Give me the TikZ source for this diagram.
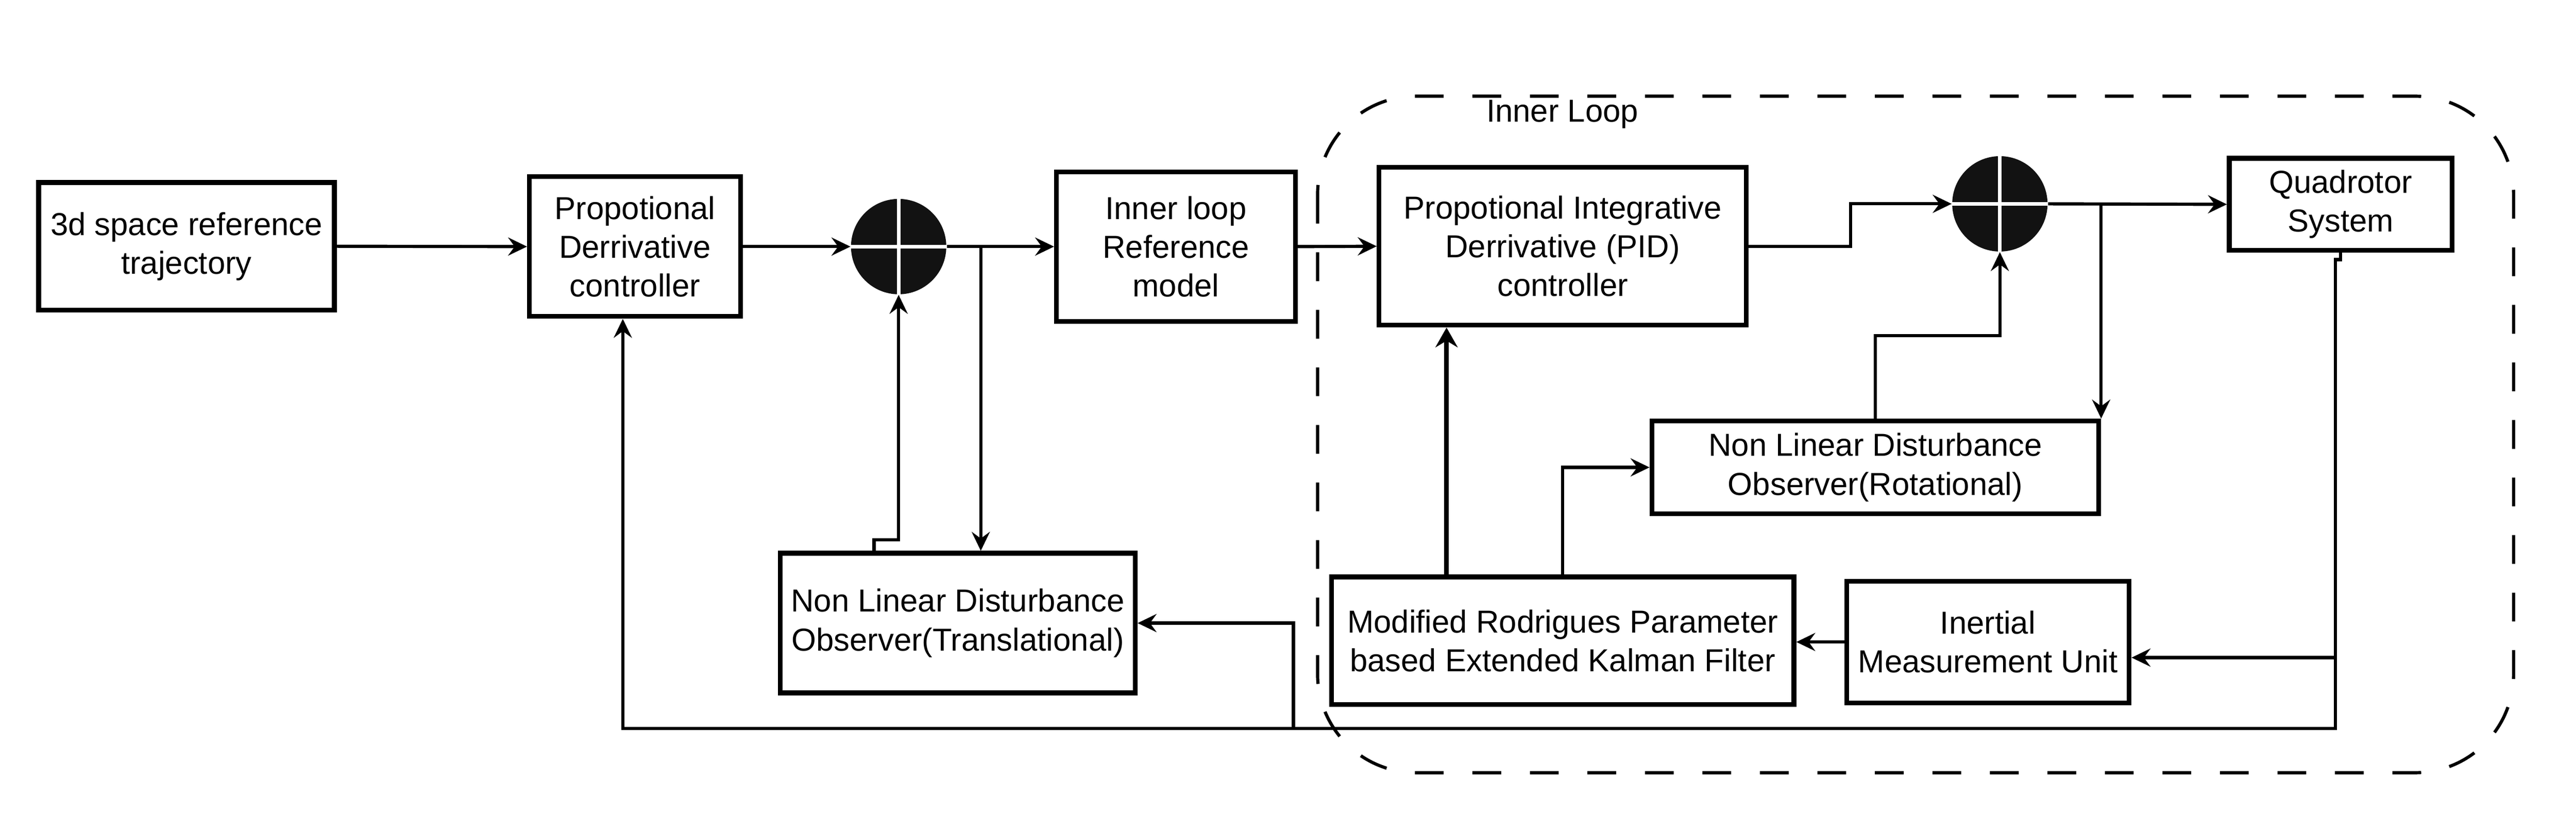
\documentclass[tikz,border=0pt]{standalone}
\usepackage{fontspec}
\setmainfont{Liberation Sans}
\usepackage{tikz}
\usetikzlibrary{positioning,arrows.meta}
\tikzset{
  block/.style={draw, line width=1.65pt, align=center, inner sep=2pt, font=\fontsize{11}{13.4}\selectfont},
  sumnode/.style={circle, fill=black!93, minimum size=11.6mm, inner sep=0pt},
  cross/.style={draw=white, line width=1.2pt},
  arr/.style={line width=1.1pt, -{Stealth[length=2.3mm,width=2.2mm,inset=0.8mm]}},
  thickarr/.style={line width=1.65pt, -{Stealth[length=2.4mm,width=2.7mm,inset=0.8mm]}},
  loopbox/.style={line width=1.1pt, dash pattern=on 3.5mm off 3.5mm, rounded corners=12mm}
}

\begin{document}
\begin{tikzpicture}[x=0.2mm,y=-0.2mm]
	\useasboundingbox (0,0) rectangle (1568,503.5);
	\draw[loopbox] (802,58.5) rectangle (1530,470);
	\node[font=\fontsize{11}{13.4}\selectfont] (innerlbl) at (951,69.6) {Inner Loop};
	\node[block, minimum width=36mm, minimum height=15.5mm] (traj) at (113.5,149.8) {3d space reference\\trajectory};
	\node[block, minimum width=25.7mm, minimum height=17mm] (pd) at (386.5,150) {Propotional\\Derrivative\\controller};
	\node[sumnode] (sum1) at (547,150) {};
	\node[block, minimum width=29.1mm, minimum height=18.2mm] (ilref) at (715.8,150) {Inner loop\\Reference\\model};
	\node[block, minimum width=44.7mm, minimum height=19.2mm] (pid) at (951.2,149.8) {Propotional Integrative\\Derrivative (PID)\\controller};
	\node[sumnode] (sum2) at (1217.3,124) {};
	\node[block, minimum width=27.1mm, minimum height=11.2mm] (quad) at (1424.7,124.3) {Quadrotor\\System};
	\node[block, minimum width=54.4mm, minimum height=11.3mm] (rot) at (1141.5,284.3) {Non Linear Disturbance\\Observer(Rotational)};
	\node[block, minimum width=34.4mm, minimum height=14.8mm] (imu) at (1210,390.5) {Inertial\\Measurement Unit};
	\node[block, minimum width=56.3mm, minimum height=15.5mm] (ekf) at (951.2,389.7) {Modified Rodrigues Parameter\\based Extended Kalman Filter};
	\node[block, minimum width=43.2mm, minimum height=17mm] (trans) at (583,379) {Non Linear Disturbance\\Observer(Translational)};
	\draw[cross] (sum1.north) -- (sum1.south) (sum1.west) -- (sum1.east);
	\draw[cross] (sum2.north) -- (sum2.south) (sum2.west) -- (sum2.east);
	\coordinate (tdown) at (597,150);
	\coordinate (tup) at (532,328.4);
	\coordinate (pidj) at (1126.4,124);
	\coordinate (rotj) at (1141.5,204.2);
	\coordinate (quadj) at (1421.4,157.9);
	\coordinate (fbk) at (1421.4,443);
	\coordinate (pdj) at (379.1,443);
	\coordinate (imuj) at (1421.4,400);
	\coordinate (ekfj) at (880.5,349);
	\coordinate (transj) at (787.3,443);
	\draw[arr] (traj.east) -- (pd.west);
	\draw[arr] (pd.east) -- (sum1.west);
	\draw[arr] (sum1.east) -- (ilref.west);
	\draw[arr] (tdown) -- (tdown |- trans.north);
	\draw[arr] (tup |- trans.north) -- (tup) -| (sum1.south);
	\draw[arr] (ilref.east) -- (pid.west);
	\draw[arr] (pid.east) -| (pidj) -- (sum2.west);
	\draw[arr] (sum2.east) -- (quad.west);
	\draw[arr] (sum2.east -| rot.north east) -- (rot.north east);
	\draw[arr] (rot.north) -- (rotj) -| (sum2.south);
	\draw[arr] (quad.south) -- (quad.south |- quadj) -- (quadj) -- (fbk) -- (pdj) -- (pdj |- pd.south);
	\draw[arr] (imuj) -- (imuj -| imu.east);
	\draw[arr] (imu.west) -- (imu.west -| ekf.east);
	\draw[thickarr] (ekfj |- ekf.north) -- (ekfj |- pid.south);
	\draw[arr] (ekf.north) |- (rot.west);
	\draw[arr] (transj) |- (trans.east);
\end{tikzpicture}
\end{document}
